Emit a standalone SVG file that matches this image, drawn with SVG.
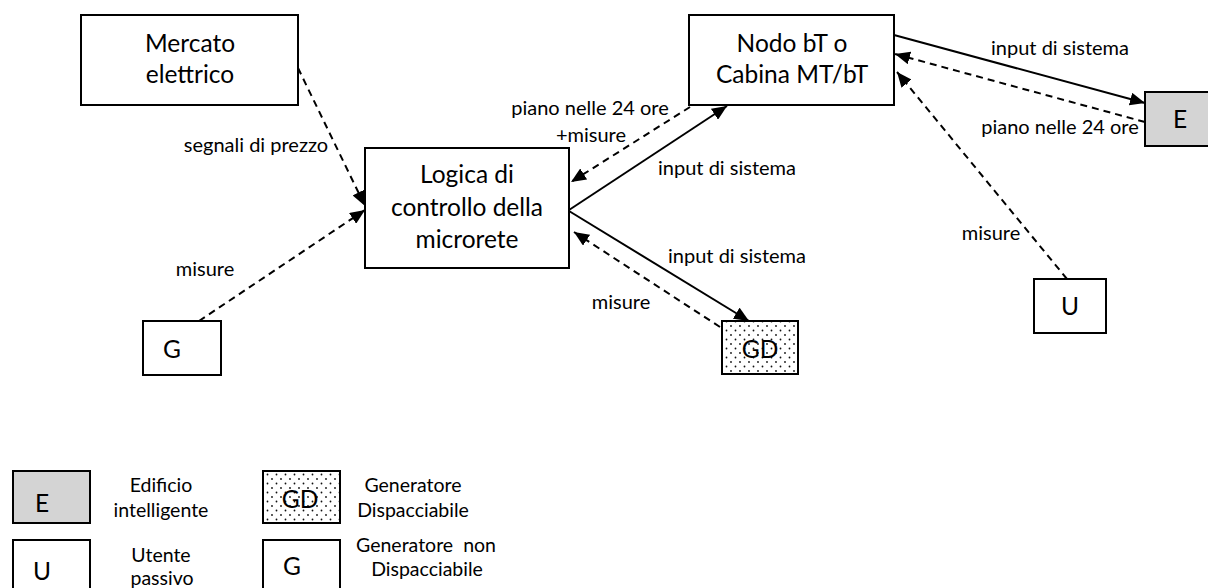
<svg xmlns="http://www.w3.org/2000/svg" width="1208" height="588" viewBox="0 0 1208 588">
  <style>
    .box { fill: #ffffff; stroke: #000000; stroke-width: 2; }
    .grey { fill: #d4d4d4; }
    .dots { fill: url(#dotFill); }
    .t { font-family: Lato, "Liberation Sans", sans-serif; fill: #000000; text-anchor: middle; white-space: pre; }
    .big { font-size: 24.5px; }
    .lbl { font-size: 20px; }
    .leg { font-size: 19.5px; }
    .solid { fill: none; stroke: #000000; stroke-width: 2; marker-end: url(#arrow); }
    .dash { fill: none; stroke: #000000; stroke-width: 2; stroke-dasharray: 7 5; marker-end: url(#arrow); }
  </style>
  <defs>
    <marker id="arrow" markerUnits="userSpaceOnUse" markerWidth="16" markerHeight="13" refX="15" refY="6.5" orient="auto">
      <path d="M0,0 L15,6.5 L0,13 z" fill="#000000"/>
    </marker>
    <pattern id="dotFill" patternUnits="userSpaceOnUse" width="9" height="9">
      <rect width="9" height="9" fill="#ffffff"/>
      <circle cx="2" cy="2" r="0.9" fill="#111111"/>
      <circle cx="6.5" cy="6.5" r="0.9" fill="#111111"/>
    </pattern>
  </defs>

  <!-- connectors -->
  <g id="connectors">
    <line class="dash" x1="298" y1="68" x2="365" y2="206"/>
    <line class="dash" x1="199" y1="321" x2="365" y2="210"/>
    <line class="solid" x1="569" y1="210" x2="727" y2="106"/>
    <line class="dash" x1="690" y1="107" x2="571" y2="182"/>
    <line class="solid" x1="569" y1="211" x2="749" y2="321"/>
    <line class="dash" x1="720" y1="327" x2="574" y2="232"/>
    <line class="solid" x1="894" y1="35" x2="1145" y2="103"/>
    <line class="dash" x1="1145" y1="122" x2="895" y2="54"/>
    <line class="dash" x1="1067" y1="279" x2="897" y2="72"/>

    <text class="t lbl" x="256" y="152">segnali di prezzo</text>
    <text class="t lbl" x="205" y="276">misure</text>
    <text class="t lbl" x="727" y="175">input di sistema</text>
    <text class="t lbl" x="590" y="115">piano nelle 24 ore</text>
    <text class="t lbl" x="591" y="142">+misure</text>
    <text class="t lbl" x="737" y="263">input di sistema</text>
    <text class="t lbl" x="621" y="309">misure</text>
    <text class="t lbl" x="1060" y="55">input di sistema</text>
    <text class="t lbl" x="1060" y="134">piano nelle 24 ore</text>
    <text class="t lbl" x="991" y="240">misure</text>
  </g>

  <!-- nodes -->
  <g id="mercato">
    <rect class="box" x="81" y="15" width="217" height="90"/>
    <text class="t big" x="190" y="52">Mercato</text>
    <text class="t big" x="190" y="83">elettrico</text>
  </g>
  <g id="logica">
    <rect class="box" x="365" y="148" width="204" height="120"/>
    <text class="t big" x="467" y="183">Logica di</text>
    <text class="t big" x="467" y="216">controllo della</text>
    <text class="t big" x="467" y="248">microrete</text>
  </g>
  <g id="nodo">
    <rect class="box" x="689" y="15" width="205" height="90"/>
    <text class="t big" x="792" y="52">Nodo bT o</text>
    <text class="t big" x="792" y="83">Cabina MT/bT</text>
  </g>
  <g id="edificio">
    <rect class="box grey" x="1145" y="92" width="70" height="54"/>
    <text class="t big" x="1180" y="128">E</text>
  </g>
  <g id="utente">
    <rect class="box" x="1034" y="279" width="72" height="54"/>
    <text class="t big" x="1070" y="315">U</text>
  </g>
  <g id="generatore">
    <rect class="box" x="143" y="321" width="78" height="54"/>
    <text class="t big" x="172" y="358">G</text>
  </g>
  <g id="gd">
    <rect class="box dots" x="722" y="321" width="76" height="53"/>
    <text class="t big" x="760" y="358">GD</text>
  </g>

  <!-- legend -->
  <g id="legend-e">
    <rect class="box grey" x="13" y="471" width="77" height="52"/>
    <text class="t big" x="42" y="512">E</text>
    <text class="t leg" x="161" y="492">Edificio</text>
    <text class="t leg" x="161" y="517">intelligente</text>
  </g>
  <g id="legend-gd">
    <rect class="box dots" x="263" y="471" width="77" height="52"/>
    <text class="t big" x="300" y="508">GD</text>
    <text class="t leg" x="413" y="492">Generatore</text>
    <text class="t leg" x="413" y="517">Dispacciabile</text>
  </g>
  <g id="legend-u">
    <rect class="box" x="13" y="540" width="77" height="60"/>
    <text class="t big" x="42" y="580">U</text>
    <text class="t leg" x="161" y="562">Utente</text>
    <text class="t leg" x="162" y="585">passivo</text>
  </g>
  <g id="legend-g">
    <rect class="box" x="263" y="540" width="77" height="60"/>
    <text class="t big" x="292" y="575">G</text>
    <text class="t leg" x="426" y="552" xml:space="preserve">Generatore  non</text>
    <text class="t leg" x="427" y="576">Dispacciabile</text>
  </g>
</svg>
